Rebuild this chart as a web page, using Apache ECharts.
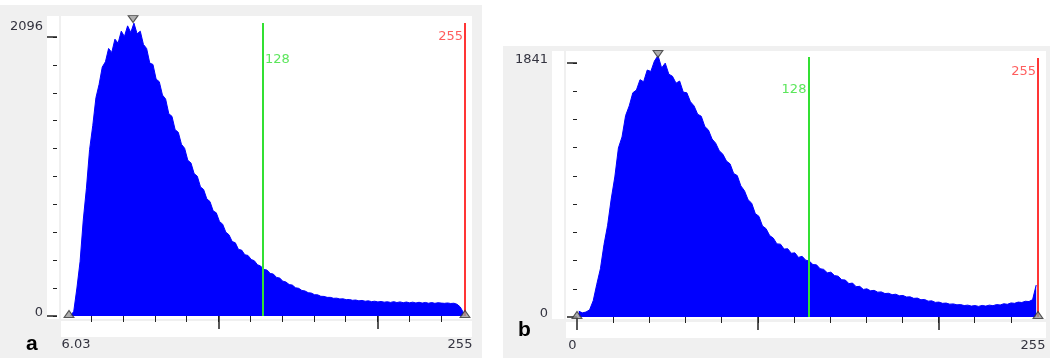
<!DOCTYPE html>
<html><head><meta charset="utf-8">
<script src="https://cdn.jsdelivr.net/npm/echarts@6/dist/echarts.min.js"></script>
<style>html,body{margin:0;padding:0;background:#fff}#c{width:1057px;height:358px}</style>
</head><body><div id="c"></div>
<script>
// ---- data ----
const rangeA = [6.03, 255];
const countsA = [
  0, 35, 210, 410, 720, 960, 1250, 1430, 1640, 1740,
  1870, 1910, 2010, 1980, 2080, 2050, 2140, 2100, 2180, 2130,
  2200, 2120, 2140, 2040, 2010, 1900, 1890, 1780, 1760, 1660,
  1630, 1520, 1500, 1400, 1380, 1290, 1260, 1170, 1150, 1070,
  1050, 970, 950, 880, 860, 790, 775, 710, 690, 630,
  610, 560, 550, 500, 495, 460, 455, 425, 415, 385,
  375, 350, 345, 320, 315, 290, 285, 262, 255, 236,
  232, 212, 208, 192, 188, 175, 172, 160, 159, 148,
  147, 140, 140, 133, 134, 128, 129, 123, 124, 118,
  120, 114, 117, 111, 114, 108, 111, 106, 109, 104,
  107, 102, 108, 101, 106, 100, 105, 99, 104, 98,
  103, 97, 102, 96, 101, 95, 100, 97, 95, 98,
  94, 96, 88, 68, 25
];
const rangeB = [0, 255];
const countsB = [
  42, 30, 36, 52, 118, 238, 350, 525, 665, 855,
  1015, 1225, 1305, 1460, 1530, 1625, 1645, 1720, 1705, 1790,
  1780, 1855, 1895, 1805, 1840, 1760, 1745, 1695, 1710, 1630,
  1625, 1560, 1530, 1470, 1455, 1380, 1355, 1290, 1260, 1205,
  1180, 1130, 1110, 1040, 1025, 950, 915, 850, 825, 750,
  730, 660, 640, 590, 572, 530, 528, 492, 495, 462,
  465, 432, 440, 412, 405, 380, 378, 350, 345, 320,
  325, 300, 296, 270, 268, 242, 246, 220, 222, 200,
  204, 190, 193, 180, 182, 170, 172, 162, 165, 154,
  156, 145, 146, 135, 137, 125, 127, 115, 117, 106,
  108, 99, 101, 93, 95, 88, 90, 83, 86, 79,
  83, 77, 84, 79, 86, 82, 90, 87, 96, 92,
  102, 99, 108, 105, 114, 112, 126, 232
];
const xMinorTicks = [20, 40, 60, 80, 100, 120, 140, 160, 180, 200, 220, 240];
const xMajorTicksA = [100, 200];
const xMajorTicksB = [0, 100, 200];
const xLabelsA = [6.03, 255];
const xLabelsB = [0, 255];
const yLabelsA = [0, 2096];
const yLabelsB = [0, 1841];
const yStepsA = 10, yStepsB = 9;
const thresholdLow = 128, thresholdHigh = 255;
const peakA = 46.3, peakB = 44.8;
const panelLetters = ['a', 'b'];

// ---- build ----
function binned(counts, range) {
  const w = (range[1] - range[0]) / counts.length;
  return counts.map((c, i) => [range[0] + (i + 0.5) * w, c]);
}
function steps(top, n) { const a = []; for (let k = 0; k <= n; k++) a.push(top * k / n); return a; }

const FONT = 'DejaVu Sans';
const TXT = '#33333f';
const BLUE = '#0000ff', GREEN = '#33e033', RED = '#ff3535';
const yMaxA = 2254, yMaxB = 1928;

function xAxes(grid, range, majors, labels, padL, padR) {
  return [
    { gridIndex: grid, type: 'value', position: 'bottom', min: range[0], max: range[1], offset: 10,
      axisLine: { show: false }, splitLine: { show: false }, axisLabel: { show: false },
      axisTick: { customValues: xMinorTicks, length: 6, lineStyle: { color: '#222', width: 1 } } },
    { gridIndex: grid, type: 'value', position: 'bottom', min: range[0], max: range[1], offset: 6,
      axisLine: { show: false }, splitLine: { show: false },
      axisTick: { customValues: majors, length: 13, lineStyle: { color: '#222', width: 1.5 } },
      axisLabel: { customValues: labels, margin: 16, fontFamily: FONT, fontSize: 13, color: TXT,
        showMinLabel: true, showMaxLabel: true, hideOverlap: false,
        formatter: v => (v === labels[0] ? '{l|' + v + '}' : '{r|' + v + '}'),
        rich: { l: { fontFamily: FONT, fontSize: 13, color: TXT, padding: [0, padR[0], 0, padL] },
                r: { fontFamily: FONT, fontSize: 13, color: TXT, padding: [0, padR[1], 0, 0] } } } }
  ];
}
function yAxes(grid, max, labels, n, offset, margin, topShift) {
  return [
    { gridIndex: grid, type: 'value', position: 'left', min: 0, max: max, offset: offset,
      axisLine: { show: false }, splitLine: { show: false }, axisLabel: { show: false },
      axisTick: { customValues: steps(labels[1], n), length: 4, lineStyle: { color: '#222' } } },
    { gridIndex: grid, type: 'value', position: 'left', min: 0, max: max, offset: offset,
      axisLine: { show: false }, splitLine: { show: false },
      axisTick: { customValues: labels, length: 10, lineStyle: { color: '#222', width: 1.5 } },
      axisLabel: { customValues: labels, margin: margin, showMinLabel: true, showMaxLabel: true, hideOverlap: false,
        formatter: v => (v === labels[1] ? '{t|' + v + '}' : '{z|' + v + '}'),
        rich: { t: { fontFamily: FONT, fontSize: 13, color: TXT, padding: [0, 0, topShift, 0] },
                z: { fontFamily: FONT, fontSize: 13, color: TXT, padding: [0, 0, 6, 0] } } } }
  ];
}
function hist(idx, data, lineTopLow, lineTopHigh) {
  return { type: 'line', xAxisIndex: idx * 2, yAxisIndex: idx * 2, data: data,
    symbol: 'none', silent: true, z: 3,
    lineStyle: { color: BLUE, width: 1 }, areaStyle: { color: BLUE, opacity: 1 },
    markLine: { silent: true, symbol: 'none', label: { show: false }, animation: false,
      data: [
        [{ coord: [thresholdLow, lineTopLow], lineStyle: { color: GREEN, width: 2, type: 'solid' } }, { coord: [thresholdLow, 0] }],
        [{ coord: [thresholdHigh, lineTopHigh], lineStyle: { color: RED, width: 2, type: 'solid' } }, { coord: [thresholdHigh, 0] }]
      ] } };
}
function markers(idx, lo, hi, peakX, peakY) {
  const st = { color: '#9a9a9a', borderColor: '#333', borderWidth: 1 };
  return { type: 'scatter', xAxisIndex: idx * 2, yAxisIndex: idx * 2, silent: true, z: 5,
    symbol: 'triangle', symbolSize: [10, 7], itemStyle: st, clip: false,
    data: [ { value: [lo, 0], symbolOffset: [0, -2] }, { value: [hi, 0], symbolOffset: [0, -2] },
            { value: [peakX, peakY], symbolRotate: 180 } ] };
}
function texts(idx, items) {
  return { type: 'scatter', xAxisIndex: idx * 2, yAxisIndex: idx * 2, silent: true, z: 6,
    symbolSize: 0, clip: false, data: items.map(t => ({ value: [t.x, t.y],
      label: { show: true, formatter: t.text, position: t.pos, distance: 2, color: t.color,
               fontFamily: FONT, fontSize: 13 } })) };
}

const rect = (x, y, w, h, fill) => ({ type: 'rect', z: -10, silent: true,
  shape: { x: x, y: y, width: w, height: h }, style: { fill: fill } });

const option = {
  animation: false,
  backgroundColor: '#ffffff',
  graphic: [
    rect(0, 5, 482, 353, '#f0f0f0'),
    rect(61, 16, 411, 303, '#ffffff'),
    rect(47, 16, 12, 303, '#ffffff'),
    rect(61, 321, 411, 16, '#ffffff'),
    rect(503, 46, 547, 312, '#f0f0f0'),
    rect(566, 51, 480, 268, '#ffffff'),
    rect(552, 51, 12, 268, '#ffffff'),
    rect(566, 322, 480, 16, '#ffffff'),
    { type: 'text', z: 10, left: 26, top: 334, style: { text: panelLetters[0], fontFamily: 'Liberation Sans', fontWeight: 'bold', fontSize: 21, fill: '#000' } },
    { type: 'text', z: 10, left: 518, top: 320, style: { text: panelLetters[1], fontFamily: 'Liberation Sans', fontWeight: 'bold', fontSize: 21, fill: '#000' } }
  ],
  grid: [
    { left: 69, top: 16, width: 396, height: 300, outerBoundsMode: 'none', containLabel: false },
    { left: 577, top: 51, width: 461, height: 266, outerBoundsMode: 'none', containLabel: false }
  ],
  xAxis: [
    ...xAxes(0, rangeA, xMajorTicksA, xLabelsA, 14, [0, 10]),
    ...xAxes(1, rangeB, xMajorTicksB, xLabelsB, 0, [9, 10])
  ],
  yAxis: [
    ...yAxes(0, yMaxA, yLabelsA, yStepsA, 12, 14, 20),
    ...yAxes(1, yMaxB, yLabelsB, yStepsB, 13, 16, 6)
  ],
  series: [
    hist(0, binned(countsA, rangeA), 2201, 2201),
    hist(1, binned(countsB, rangeB), 1884, 1877),
    markers(0, rangeA[0], rangeA[1], peakA, 2231),
    markers(1, rangeB[0], rangeB[1], peakB, 1906),
    texts(0, [ { x: thresholdLow, y: 1923, text: String(thresholdLow), pos: 'right', color: GREEN },
               { x: thresholdHigh, y: 2096, text: String(thresholdHigh), pos: 'left', color: RED } ]),
    texts(1, [ { x: thresholdLow, y: 1645, text: String(thresholdLow), pos: 'left', color: GREEN },
               { x: thresholdHigh, y: 1776, text: String(thresholdHigh), pos: 'left', color: RED } ])
  ]
};
const chart = echarts.init(document.getElementById('c'), null, { renderer: 'canvas' });
chart.setOption(option);
</script></body></html>
